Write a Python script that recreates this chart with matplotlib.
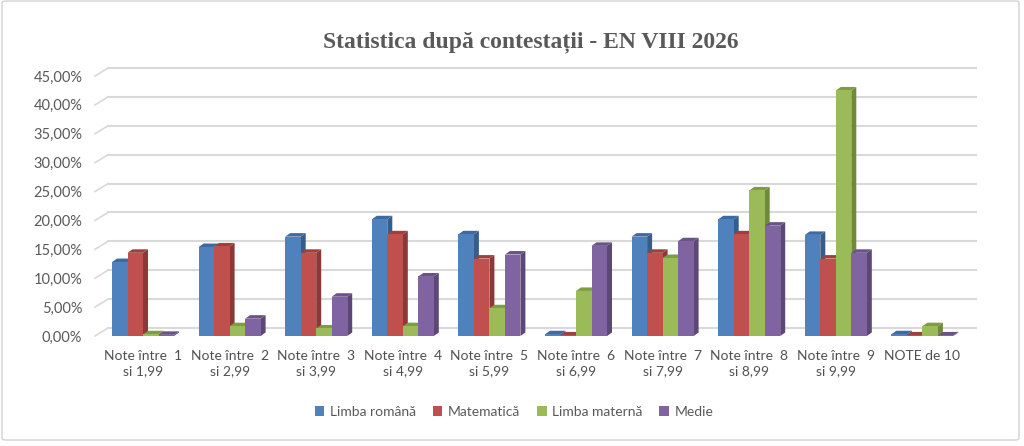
import matplotlib
matplotlib.use("Agg")
import matplotlib.pyplot as plt
from matplotlib.patches import Polygon, Patch, FancyBboxPatch

categories = ["Note între  1\nsi 1,99", "Note între  2\nsi 2,99", "Note între  3\nsi 3,99",
              "Note între  4\nsi 4,99", "Note între  5\nsi 5,99", "Note între  6\nsi 6,99",
              "Note între  7\nsi 7,99", "Note între  8\nsi 8,99", "Note între  9\nsi 9,99",
              "NOTE de 10"]
series_names = ["Limba română", "Matematică", "Limba maternă", "Medie"]
limba_romana = [12.8, 15.4, 17.2, 20.2, 17.6, 0.3, 17.2, 20.2, 17.5, 0.3]
matematica = [14.4, 15.5, 14.4, 17.6, 13.4, 0.1, 14.4, 17.6, 13.4, 0.1]
limba_materna = [0.3, 1.7, 1.3, 1.7, 4.8, 7.8, 13.5, 25.2, 42.5, 1.7]
medie = [0.2, 3.0, 6.8, 10.3, 14.1, 15.6, 16.4, 19.1, 14.4, 0.1]
yticks = [0, 5, 10, 15, 20, 25, 30, 35, 40, 45]

series = [limba_romana, matematica, limba_materna, medie]
front_colors = ["#4f81bd", "#c0504d", "#9bbb59", "#8064a2"]
side_colors = ["#385d8a", "#8c3836", "#6f8a3c", "#5c4776"]
top_colors = ["#3d6aa0", "#a13f3c", "#7e9c45", "#6a5388"]

W, H = 1024, 446
fig = plt.figure(figsize=(W / 100, H / 100), dpi=100)

# axes front plane in pixel terms
x_left_px, x_right_px = 99.7, 965.7
y_zero_px, y_top_px = 336, 76
ax = fig.add_axes([x_left_px / W, (H - y_zero_px) / H,
                   (x_right_px - x_left_px) / W, (y_zero_px - y_top_px) / H])
ax.set_xlim(-0.5, 9.5)
ax.set_ylim(0, 45)
px_x = (x_right_px - x_left_px) / 10.0
px_y = (y_zero_px - y_top_px) / 45.0

for s in ax.spines.values():
    s.set_visible(False)

# back wall gridlines with slanted left connectors
wall_dx = 13 / px_x
wall_dy = 8 / px_y
front_left = -0.5 - 4.7 / px_x
back_right = 9.5 + 10.3 / px_x
grid_c = "#d9d9d9"
for v in yticks:
    ax.plot([front_left, front_left + wall_dx], [v, v + wall_dy], color=grid_c,
            lw=1.2, clip_on=False, zorder=1)
    ax.plot([front_left + wall_dx, back_right], [v + wall_dy, v + wall_dy], color=grid_c,
            lw=1.5, clip_on=False, zorder=1)

# bars with pseudo-3D faces
bw = 15.5 / px_x
ddx = 5 / px_x
ddy = 3.5 / px_y
offsets = [-1.5, -0.5, 0.5, 1.5]
k = 0
for i in range(len(categories)):
    for j, vals in enumerate(series):
        v = vals[i]
        xc = i + offsets[j] * bw
        xl, xr = xc - bw / 2, xc + bw / 2
        z = 3 + k * 0.01
        side = Polygon([(xr, 0), (xr + ddx, ddy), (xr + ddx, v + ddy), (xr, v)],
                       closed=True, facecolor=side_colors[j], edgecolor="none",
                       zorder=z, clip_on=False)
        top = Polygon([(xl, v), (xr, v), (xr + ddx, v + ddy), (xl + ddx, v + ddy)],
                      closed=True, facecolor=top_colors[j], edgecolor="none",
                      zorder=z, clip_on=False)
        ax.add_patch(side)
        ax.add_patch(top)
        ax.bar(xc, v, width=bw, color=front_colors[j], zorder=z + 0.005,
               clip_on=False, linewidth=0)
        k += 1

font = ["Lato", "DejaVu Sans"]
ax.set_yticks(yticks)
ax.set_yticklabels([f"{v:.2f}".replace(".", ",") + "%" for v in yticks],
                   fontsize=10.5, color="#595959", family=font)
ax.set_xticks(range(len(categories)))
ax.set_xticklabels(categories, fontsize=10, color="#505050", family=font,
                   linespacing=1.3)
ax.tick_params(axis="y", length=0, pad=12.5)
ax.tick_params(axis="x", length=0, pad=10)
ax.set_facecolor("none")

fig.text(531 / W, (H - 42) / H, "Statistica după contestații - EN VIII 2026",
         ha="center", va="center", fontsize=17, fontweight="bold",
         color="#595959", family=["Liberation Serif", "DejaVu Serif"])

handles = [Patch(facecolor=c, edgecolor="none", label=n)
           for c, n in zip(front_colors, series_names)]
leg = fig.legend(handles=handles, loc="center", bbox_to_anchor=(514 / W, (H - 412) / H),
                 ncol=4, frameon=False, handlelength=0.7, handleheight=0.7,
                 handletextpad=0.4, columnspacing=1.2,
                 prop={"family": font, "size": 10})
for t in leg.get_texts():
    t.set_color("#595959")

border = FancyBboxPatch((2 / W, 6 / H), 1017 / W, 439 / H,
                        boxstyle="round,pad=0,rounding_size=0.004",
                        transform=fig.transFigure, facecolor="none",
                        edgecolor="#d9d9d9", linewidth=1.2)
fig.patches.append(border)

fig.savefig("out.png", dpi=100)
